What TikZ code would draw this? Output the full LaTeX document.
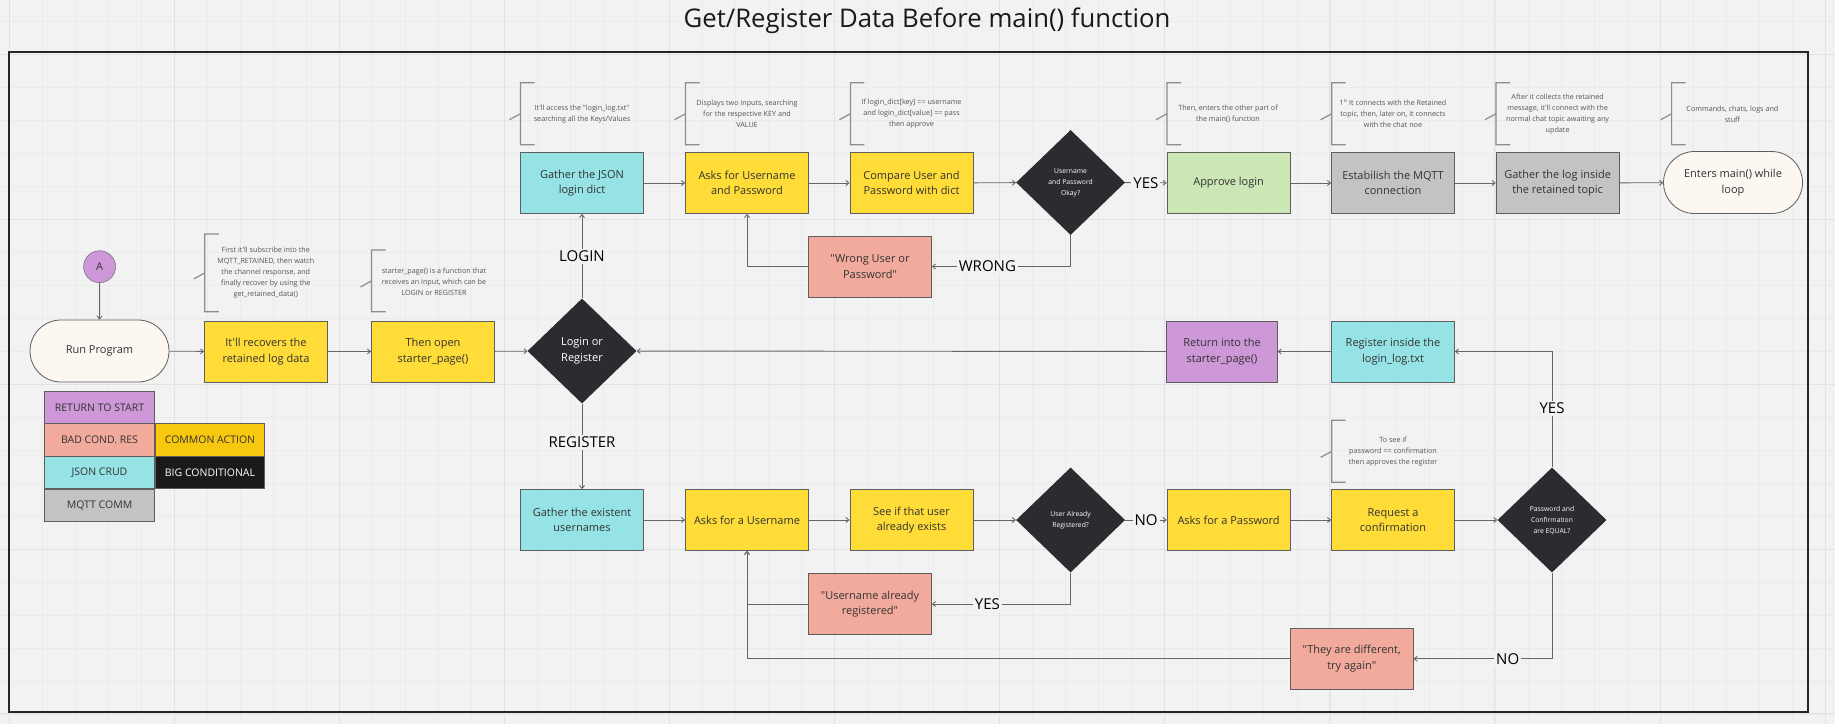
\documentclass[tikz,border=0pt]{standalone}
\usepackage{fontspec}
\setmainfont{Open Sans}[Ligatures=TeXOff]
\usetikzlibrary{arrows.meta,shapes.geometric,shapes.misc}

\definecolor{canvas}{HTML}{F2F2F2}
\definecolor{minorcol}{HTML}{EBEBEB}
\definecolor{majorcol}{HTML}{E2E2E2}
\definecolor{boxline}{HTML}{5E5E5E}
\definecolor{linegray}{HTML}{666666}
\definecolor{commonyellow}{HTML}{FFDC37}
\definecolor{commondark}{HTML}{F8C80F}
\definecolor{jsoncyan}{HTML}{96E3E6}
\definecolor{badpink}{HTML}{F2AA9D}
\definecolor{mqttgray}{HTML}{C3C3C3}
\definecolor{restartpurple}{HTML}{CD97D8}
\definecolor{approvegreen}{HTML}{CDE6B5}
\definecolor{cream}{HTML}{FCF8F1}
\definecolor{diamondblack}{HTML}{2B2C30}
\definecolor{bigblack}{HTML}{1A1A1A}
\definecolor{boxtext}{HTML}{333333}
\definecolor{notetext}{HTML}{555555}

\tikzstyle{minorgrid}=[minorcol, line width=0.6pt]
\tikzstyle{majorgrid}=[majorcol, line width=1pt]
\tikzstyle{frameline}=[draw=black!85, line width=2pt]
\tikzstyle{titletext}=[text=black!90, font=\fontsize{25.7}{30}\selectfont]
\tikzstyle{actionbox}=[draw=boxline, line width=0.8pt, rectangle, minimum width=123pt, minimum height=61pt, inner sep=2pt, align=center, text=boxtext, font=\fontsize{11}{15.5}\selectfont]
\tikzstyle{common}=[actionbox, fill=commonyellow]
\tikzstyle{json}=[actionbox, fill=jsoncyan]
\tikzstyle{badres}=[actionbox, fill=badpink]
\tikzstyle{mqttbox}=[actionbox, fill=mqttgray]
\tikzstyle{restart}=[actionbox, fill=restartpurple]
\tikzstyle{approvebox}=[actionbox, fill=approvegreen]
\tikzstyle{terminal}=[actionbox, rounded rectangle, fill=cream, minimum width=143pt, minimum height=62pt]
\tikzstyle{decision}=[diamond, fill=diamondblack, draw=none, minimum width=109pt, minimum height=105pt, inner sep=0pt, align=center, text=white, font=\fontsize{11}{15.5}\selectfont]
\tikzstyle{smalltext}=[font=\fontsize{6.8}{11}\selectfont]
\tikzstyle{startcircle}=[draw=boxline, circle, fill=restartpurple, minimum size=32pt, inner sep=0pt, text=boxtext, font=\fontsize{11}{13}\selectfont]
\tikzstyle{legend}=[draw=boxline, line width=0.8pt, rectangle, minimum width=109.7pt, minimum height=32.6pt, inner sep=1pt, text=boxtext, font=\fontsize{10.5}{12}\selectfont]
\tikzstyle{note}=[align=center, inner sep=1pt, text=notetext, font=\fontsize{7.2}{11}\selectfont]
\tikzstyle{bracket}=[draw=gray!90, line width=1.2pt]
\tikzstyle{branch}=[fill=canvas, inner sep=2pt, text=black, font=\fontsize{15}{18}\selectfont]
\tikzstyle{flow}=[draw=linegray, line width=0.9pt, -{Straight Barb[length=3pt,width=5pt]}]

\begin{document}
\begin{tikzpicture}[x=1pt,y=-1pt]
    \useasboundingbox (0,0) rectangle (1835,724);
    % canvas and grid
    \fill[canvas] (0,0) rectangle (1835,724);
    \foreach \i in {0,...,55} \draw[minorgrid] ({9+33.02*\i},0) -- ({9+33.02*\i},724);
    \foreach \i in {-1,...,20} \draw[minorgrid] (0,{54.7+32.96*\i}) -- (1835,{54.7+32.96*\i});
    \foreach \i in {0,...,11} \draw[majorgrid] ({9+165.1*\i},0) -- ({9+165.1*\i},724);
    \foreach \i in {0,...,4} \draw[majorgrid] (0,{54.7+164.8*\i}) -- (1835,{54.7+164.8*\i});

    % title and frame
    \node[titletext] (title) at (927,21) {Get/Register Data Before main() function};
    \draw[frameline] (8.8,52.3) rectangle (1807.8,711.7);

    % start
    \node[startcircle] (startA) at (99.6,266.7) {A};
    \node[terminal] (run) at (99.5,351) {Run Program};
    \node[common] (recover) at (266,351.5) {It'll recovers the\\retained log data};
    \node[common] (starter) at (433,351.5) {Then open\\starter\_page()};
    \node[decision] (logreg) at (582,351) {Login or\\Register};

    % login branch
    \node[json] (gatherjson) at (582,183) {Gather the JSON\\login dict};
    \node[common] (askuserpass) at (747,183) {Asks for Username\\and Password};
    \node[common] (compare) at (911.5,183) {Compare User and\\Password with dict};
    \node[decision, smalltext] (okay) at (1070.6,182.5) {Username\\and Password\\Okay?};
    \node[approvebox] (approve) at (1228.6,183) {Approve login};
    \node[mqttbox] (mqtt) at (1393,183) {Estabilish the MQTT\\connection};
    \node[mqttbox] (gatherlog) at (1557.6,183) {Gather the log inside\\the retained topic};
    \node[terminal] (entersmain) at (1733,182.5) {Enters main() while\\loop};
    \node[badres] (wrong) at (870,266.4) {"Wrong User or\\Password"};

    % register branch
    \node[json] (gatherusers) at (582,520) {Gather the existent\\usernames};
    \node[common] (askuser) at (747,520) {Asks for a Username};
    \node[common] (seeuser) at (911.5,520) {See if that user\\already exists};
    \node[decision, smalltext] (already) at (1070.6,520) {User Already\\Registered?};
    \node[common] (askpass) at (1228.6,520) {Asks for a Password};
    \node[common] (confirm) at (1393,520) {Request a\\confirmation};
    \node[decision, smalltext] (equal) at (1552,520) {Password and\\Confirmation\\are EQUAL?};
    \node[badres] (registered) at (870,604) {"Username already\\registered"};
    \node[badres] (different) at (1351.7,658.8) {"They are different,\\try again"};
    \node[json] (registerlog) at (1393,351.5) {Register inside the\\login\_log.txt};
    \node[restart, minimum width=110.5pt] (returnstart) at (1222,351.5) {Return into the\\starter\_page()};

    % legend
    \node[legend, fill=restartpurple] (legstart) at (99.5,407.5) {RETURN TO START};
    \node[legend, fill=badpink] (legbad) at (99.5,439.8) {BAD COND. RES};
    \node[legend, fill=commondark] (legcommon) at (210,439.8) {COMMON ACTION};
    \node[legend, fill=jsoncyan] (legjson) at (99.5,472.4) {JSON CRUD};
    \node[legend, fill=bigblack, text=white] (legbig) at (210,472.4) {BIG CONDITIONAL};
    \node[legend, fill=mqttgray] (legmqtt) at (99.5,505.2) {MQTT COMM};

    % notes
    \node[note] (noterecover) at (265.8,273) {First it'll subscribe into the\\MQTT\_RETAINED, then watch\\the channel response, and\\finally recover by using the\\get\_retained\_data()};
    \node[note] (notestarter) at (434,281.5) {starter\_page() is a function that\\receives an input, which can be\\LOGIN or REGISTER};
    \node[note] (notejson) at (582,114) {It'll access the "login\_log.txt"\\searching all the Keys/Values};
    \node[note] (noteask) at (747,114) {Displays two inputs, searching\\for the respective KEY and\\VALUE};
    \node[note] (notecompare) at (911.5,114) {If login\_dict[key] == username\\and login\_dict[value] == pass\\then approve};
    \node[note] (noteapprove) at (1228,114) {Then, enters the other part of\\the main() function};
    \node[note] (notemqtt) at (1393,114) {1\textsuperscript{o} It connects with the Retained\\topic, then, later on, it connects\\with the chat noe};
    \node[note] (notelog) at (1557.6,114) {After it collects the retained\\message, it'll connect with the\\normal chat topic awaiting any\\update};
    \node[note] (notemain) at (1732.4,114) {Commands, chats, logs and\\stuff};
    \node[note] (noteconfirm) at (1393,451.3) {To see if\\password == confirmation\\then approves the register};

    % brackets
    \draw[bracket] (218.8,234) -- (204.8,234) -- (204.8,311.7) -- (218.8,311.7) (193.8,278.9) -- (204.8,272.9);
    \draw[bracket] (385.5,250) -- (371.5,250) -- (371.5,311.7) -- (385.5,311.7) (360.5,286.9) -- (371.5,280.9);
    \draw[bracket] (534.5,82.7) -- (520.5,82.7) -- (520.5,144.7) -- (534.5,144.7) (509.5,119.7) -- (520.5,113.7);
    \draw[bracket] (699.5,82.7) -- (685.5,82.7) -- (685.5,144.7) -- (699.5,144.7) (674.5,119.7) -- (685.5,113.7);
    \draw[bracket] (864.4,82.7) -- (850.4,82.7) -- (850.4,144.7) -- (864.4,144.7) (839.4,119.7) -- (850.4,113.7);
    \draw[bracket] (1181,82.7) -- (1167,82.7) -- (1167,144.7) -- (1181,144.7) (1156,119.7) -- (1167,113.7);
    \draw[bracket] (1345.7,82.7) -- (1331.7,82.7) -- (1331.7,144.7) -- (1345.7,144.7) (1320.7,119.7) -- (1331.7,113.7);
    \draw[bracket] (1510,82.7) -- (1496,82.7) -- (1496,144.7) -- (1510,144.7) (1485,119.7) -- (1496,113.7);
    \draw[bracket] (1685.6,82.7) -- (1671.6,82.7) -- (1671.6,144.7) -- (1685.6,144.7) (1660.6,119.7) -- (1671.6,113.7);
    \draw[bracket] (1345.7,420.3) -- (1331.7,420.3) -- (1331.7,482.3) -- (1345.7,482.3) (1320.7,457.3) -- (1331.7,451.3);

    % main path
    \draw[flow] (startA) -- (run);
    \draw[flow] (run) -- (recover);
    \draw[flow] (recover) -- (starter);
    \draw[flow] (starter) -- (logreg);

    % login arcs
    \draw[flow] (logreg) -- node[branch] {LOGIN} (gatherjson);
    \draw[flow] (gatherjson) -- (askuserpass);
    \draw[flow] (askuserpass) -- (compare);
    \draw[flow] (compare) -- (okay);
    \draw[flow] (okay) -- node[branch] {YES} (approve);
    \draw[flow] (approve) -- (mqtt);
    \draw[flow] (mqtt) -- (gatherlog);
    \draw[flow] (gatherlog) -- (entersmain);
    \draw[flow] (okay.south) |- node[branch, pos=0.8] {WRONG} (wrong.east);
    \draw[flow] (wrong.west) -| (askuserpass.south);

    % register arcs
    \draw[flow] (logreg) -- node[branch, pos=0.45] {REGISTER} (gatherusers);
    \draw[flow] (gatherusers) -- (askuser);
    \draw[flow] (askuser) -- (seeuser);
    \draw[flow] (seeuser) -- (already);
    \draw[flow] (already) -- node[branch] {NO} (askpass);
    \draw[flow] (askpass) -- (confirm);
    \draw[flow] (confirm) -- (equal);
    \draw[flow] (already.south) |- node[branch, pos=0.8] {YES} (registered.east);
    \draw[flow] (registered.west) -| (askuser.south);
    \draw[flow] (equal.south) |- node[branch, pos=0.66] {NO} (different.east);
    \draw[flow] (different.west) -| (askuser.south);
    \draw[flow] (equal.north) |- node[branch, pos=0.255] {YES} (registerlog.east);
    \draw[flow] (registerlog) -- (returnstart);
    \draw[flow] (returnstart) -- (logreg);
\end{tikzpicture}
\end{document}
